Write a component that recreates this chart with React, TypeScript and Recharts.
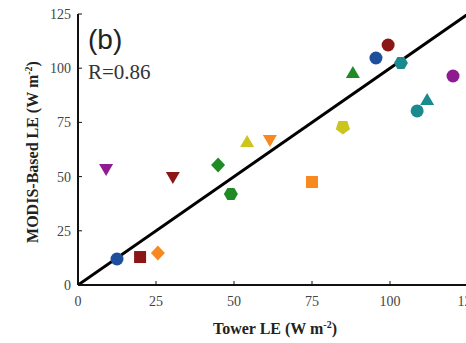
import { ScatterChart, Scatter, XAxis, YAxis, ReferenceLine } from 'recharts'

// site values (W m-2)
const towerLE = [9.0, 30.4, 44.9, 49.0, 12.5, 19.9, 25.6, 54.2, 61.5, 75.0, 84.9, 88.1, 95.5, 99.4, 103.5, 120.2, 111.9, 108.7]
const modisLE = [53.5, 49.8, 55.4, 42.0, 12.0, 12.9, 14.8, 66.0, 66.9, 47.5, 72.9, 97.8, 104.7, 110.7, 102.4, 96.4, 85.3, 80.3]
const siteMarkers = ['triDown', 'triDown', 'diamond', 'hexagon', 'circle', 'square', 'diamond', 'triUp', 'triDown', 'square', 'pentagon', 'triUp', 'circle', 'circle', 'hexagon', 'circle', 'triUp', 'circle']
const siteColors = ['#8e1b90', '#8b1616', '#1f8b25', '#1f8b25', '#1d4f9c', '#8b1616', '#f7891f', '#cbc51e', '#f7891f', '#f7891f', '#cbc51e', '#1f8b25', '#1d4f9c', '#8b1616', '#1b8a8e', '#8e1b90', '#1b8a8e', '#1b8a8e']
const xTicks = [0, 25, 50, 75, 100, 125]
const yTicks = [0, 25, 50, 75, 100, 125]

const data = towerLE.map((x, i) => ({ x, y: modisLE[i], marker: siteMarkers[i], color: siteColors[i] }))

const SERIF = '"Liberation Serif", "Times New Roman", serif'
const AXIS = '#111'

function poly(cx: number, cy: number, r: number, n: number, start: number) {
  const pts: string[] = []
  for (let k = 0; k < n; k++) {
    const a = ((start + (360 / n) * k) * Math.PI) / 180
    pts.push(`${cx + r * Math.cos(a)},${cy + r * Math.sin(a)}`)
  }
  return pts.join(' ')
}

function Marker(props: any) {
  const { cx, cy, payload } = props
  const c = payload.color
  switch (payload.marker) {
    case 'circle':
      return <circle cx={cx} cy={cy} r={6.5} fill={c} />
    case 'square':
      return <rect x={cx - 6} y={cy - 6} width={12} height={12} fill={c} />
    case 'diamond':
      return <polygon points={`${cx},${cy - 7.5} ${cx + 7},${cy} ${cx},${cy + 7.5} ${cx - 7},${cy}`} fill={c} />
    case 'triUp':
      return <polygon points={`${cx},${cy - 7} ${cx + 7},${cy + 5} ${cx - 7},${cy + 5}`} fill={c} />
    case 'triDown':
      return <polygon points={`${cx},${cy + 7} ${cx + 7},${cy - 5} ${cx - 7},${cy - 5}`} fill={c} />
    case 'hexagon':
      return <polygon points={poly(cx, cy, 7, 6, 0)} fill={c} />
    case 'pentagon':
      return <polygon points={poly(cx, cy, 7.5, 5, 90)} fill={c} />
    default:
      return <circle cx={cx} cy={cy} r={6} fill={c} />
  }
}

function BottomTick({ x, y, payload }: any) {
  return (
    <g>
      <line x1={x} y1={y - 10} x2={x} y2={y - 14} stroke={AXIS} strokeWidth={1} />
      <text x={x} y={y} dy="0.75em" textAnchor="middle" fontFamily={SERIF} fontSize={14} fill="#444">
        {payload.value}
      </text>
    </g>
  )
}

function LeftTick({ x, y, payload }: any) {
  return (
    <g>
      <line x1={x + 7} y1={y} x2={x + 11} y2={y} stroke={AXIS} strokeWidth={1} />
      <text x={x} y={y} dy="0.35em" textAnchor="end" fontFamily={SERIF} fontSize={14} fill="#444">
        {payload.value}
      </text>
    </g>
  )
}

function TopTick({ x, y }: any) {
  return <line x1={x} y1={y} x2={x} y2={y + 4} stroke={AXIS} strokeWidth={1} />
}

function RightTick({ x, y }: any) {
  return <line x1={x} y1={y} x2={x - 4} y2={y} stroke={AXIS} strokeWidth={1} />
}

export default function App() {
  return (
    <div style={{ position: 'absolute', left: 0, top: 0, width: 466, height: 343, overflow: 'hidden', background: '#fff' }}>
      <ScatterChart width={482} height={343} margin={{ top: 14, right: 14, bottom: 28, left: 18 }}>
        <XAxis
          xAxisId="b"
          type="number"
          dataKey="x"
          domain={[0, 125]}
          ticks={xTicks}
          allowDataOverflow
          height={30}
          tickSize={0}
          tickMargin={10}
          tickLine={false}
          axisLine={{ stroke: AXIS, strokeWidth: 2 }}
          tick={<BottomTick />}
        />
        <XAxis
          xAxisId="t"
          orientation="top"
          type="number"
          domain={[0, 125]}
          ticks={xTicks.slice(1, -1)}
          height={0}
          tickSize={0}
          tickMargin={0}
          tickLine={false}
          axisLine={{ stroke: AXIS, strokeWidth: 2 }}
          tick={<TopTick />}
        />
        <YAxis
          yAxisId="l"
          type="number"
          dataKey="y"
          domain={[0, 125]}
          ticks={yTicks}
          allowDataOverflow
          width={60}
          tickSize={0}
          tickMargin={7}
          tickLine={false}
          axisLine={{ stroke: AXIS, strokeWidth: 2 }}
          tick={<LeftTick />}
        />
        <YAxis
          yAxisId="r"
          orientation="right"
          type="number"
          domain={[0, 125]}
          ticks={yTicks.slice(1, -1)}
          width={0}
          tickSize={0}
          tickMargin={0}
          tickLine={false}
          axisLine={{ stroke: AXIS, strokeWidth: 2 }}
          tick={<RightTick />}
        />
        <ReferenceLine
          xAxisId="b"
          yAxisId="l"
          segment={[{ x: 0, y: 0 }, { x: 125, y: 125 }]}
          stroke="#000"
          strokeWidth={3}
          ifOverflow="hidden"
        />
        <Scatter xAxisId="b" yAxisId="l" data={data} shape={Marker} isAnimationActive={false} />
        <text x={88} y={49} fontFamily='"Liberation Sans", Arial, sans-serif' fontSize={28} fill="#222">
          (b)
        </text>
        <text x={88} y={79} fontFamily={SERIF} fontSize={21} fill="#333">
          R=0.86
        </text>
        <text
          transform="translate(38,152) rotate(-90)"
          textAnchor="middle"
          fontFamily={SERIF}
          fontWeight="bold"
          fontSize={16}
          fill="#222"
        >
          MODIS-Based LE (W m<tspan dy={-6} fontSize={10}>-2</tspan><tspan dy={6}>)</tspan>
        </text>
        <text x={275} y={334} textAnchor="middle" fontFamily={SERIF} fontWeight="bold" fontSize={16} fill="#222">
          Tower LE (W m<tspan dy={-6} fontSize={10}>-2</tspan><tspan dy={6}>)</tspan>
        </text>
      </ScatterChart>
    </div>
  )
}
